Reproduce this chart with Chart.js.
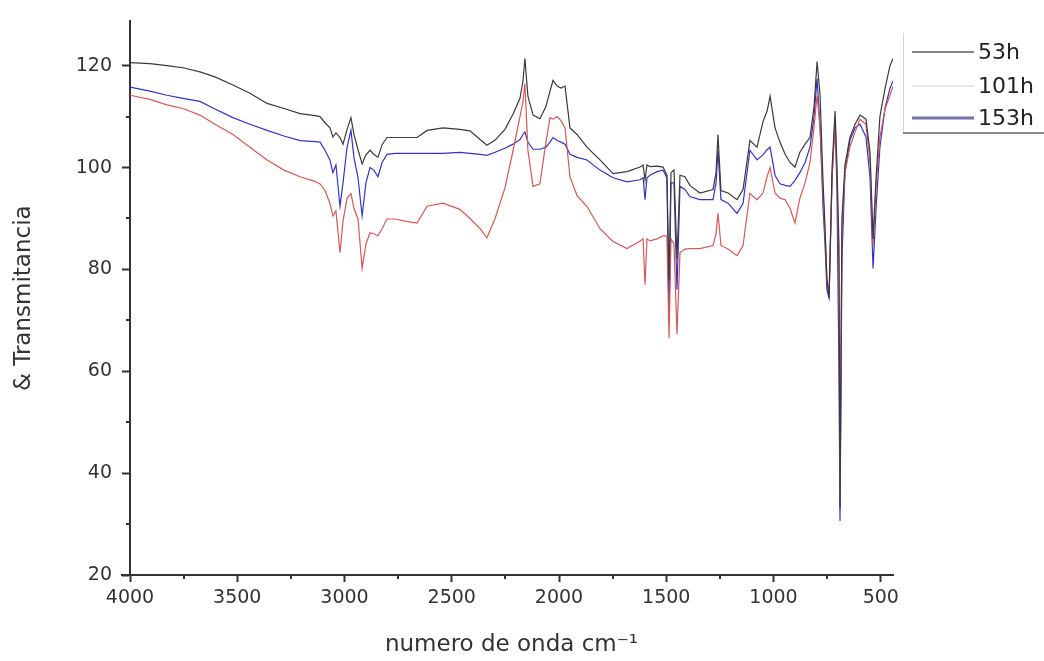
<!DOCTYPE html>
<html><head><meta charset="utf-8">
<script src="https://cdn.jsdelivr.net/npm/chart.js@4"></script>
<style>html,body{margin:0;padding:0;background:#fff}#wrap{width:1044px;height:661px}</style>
</head><body><div id="wrap"><canvas id="c" width="1044" height="661"></canvas></div>
<script>
const wavenumbers = [4000,3907,3828,3753,3674,3604,3520,3441,3361,3282,3207,3138,3114,3091,3068,3054,3040,3021,3007,2988,2970,2956,2937,2918,2900,2881,2863,2844,2825,2802,2765,2718,2662,2615,2541,2462,2415,2368,2336,2298,2252,2214,2182,2168,2159,2145,2121,2089,2061,2042,2028,2009,1991,1972,1949,1916,1870,1809,1748,1683,1622,1608,1599,1590,1576,1543,1515,1497,1487,1478,1464,1450,1436,1413,1390,1343,1282,1268,1259,1245,1212,1170,1142,1110,1077,1049,1030,1016,993,970,946,923,900,877,853,830,811,797,783,769,760,751,741,727,713,704,695,690,681,667,644,620,597,569,550,536,522,504,480,457,443];
const t53h = [120.6,120.4,120,119.6,118.8,117.8,116.2,114.6,112.6,111.6,110.6,110.2,110,108.8,107.8,106,106.8,105.9,104.6,107.5,109.8,106.5,103.5,100.7,102.5,103.4,102.6,102,104.5,105.9,105.9,105.9,105.9,107.3,107.8,107.5,107.2,105.5,104.4,105.4,107.5,110.5,113.6,117,121.4,114,110.3,109.6,112,115,117.1,116,115.6,116,107.8,106.5,104,101.5,98.8,99.2,100.1,100.5,97.5,100.5,100.2,100.3,100.1,98.5,78,99,99.5,82,98.5,98.2,96.5,95,95.7,99,106.5,95.5,95,93.7,95.7,105.3,104,109,111.1,114,107.8,105,102.6,101,100.1,103,104.6,105.9,112,120.8,114.2,97,88.5,78,74.4,100,111.1,100,85,33,90,100.5,105.9,108.5,110.3,109.5,103,86,98,110,115.6,120,121.4];
const t101h = [114.2,113.4,112.3,111.6,110.3,108.5,106.5,104,101.5,99.5,98.2,97.3,96.8,95.5,93,90.5,91.5,83.3,89.5,94,94.9,92,89.9,80.2,85,87.2,87,86.6,88,89.9,89.9,89.5,89.1,92.4,93,91.8,90,88,86.2,90,96,103.4,110,113,116.5,103.4,96.3,96.8,105,109.8,109.5,110,109.2,107.8,98.2,94.5,92.4,88,85.5,84.1,85.6,86,77,86,85.6,86,86.6,86.6,66.5,86,85,67.3,83.3,84,84.1,84.1,84.7,87,91,84.7,84,82.7,84.7,94.9,93.7,95,98.2,100,95,94,93.7,92,89.1,94,97,101,108,114.2,108,95,87,78,75,98,109,98,80,35,88,99,104,107,109.5,108.5,101,84.7,96,106,111.5,114.2,116];
const t153h = [115.8,115,114.2,113.6,113,111.5,109.8,108.5,107.3,106.2,105.3,105.1,105,103.4,101.5,99,100.5,92.4,97,104,107.3,102,98,90.5,97,100,99.5,98.2,101,102.6,102.8,102.8,102.8,102.8,102.8,103,102.8,102.6,102.4,103,103.8,104.6,105.5,106.5,107,105,103.6,103.6,104,105,105.9,105.3,105,104.6,102.6,102,101.5,99.5,98,97.2,97.6,98,93.7,98,98.5,99.2,99.5,98,70,97,97,76,96.3,95.7,94.3,93.7,93.7,97,103.4,93.7,93,91,93,103.4,101.5,102.5,103.5,104,98.5,96.8,96.5,96.3,97.5,99,101,104,110,117.5,108,92,85,76,74.4,98,109.8,95,60,30.6,82,99,105.3,107.8,108.5,106,98,80.2,92,104,111.7,115.6,117];

const seriesLabels = ['53h', '101h', '153h'];
const xTickLabels = [4000, 3500, 3000, 2500, 2000, 1500, 1000, 500];
const xMinorTicks = [3750, 3250, 2750, 2250, 1750, 1250, 750];
const yTickLabels = [20, 40, 60, 80, 100, 120];
const yMinorTicks = [30, 50, 70, 90, 110];
const xTitle = 'numero de onda cm\u207B\u00B9';
const yTitle = '& Transmitancia';

const seriesColors = ['#3a3a3a', '#d65858', '#3434c2'];
const legendColors = ['#5c5c5c', '#d9d2d2', '#7474a6'];
const legendWidths = [1.5, 1.2, 3];

function toPoints(vals) { return wavenumbers.map((w, i) => ({x: w, y: vals[i]})); }
const allSeries = [t53h, t101h, t153h];

const minorTicksPlugin = {
  id: 'minorTicks',
  afterDraw(chart) {
    const ctx = chart.ctx, xs = chart.scales.x, ys = chart.scales.y;
    ctx.save();
    ctx.strokeStyle = '#333'; ctx.lineWidth = 2;
    xMinorTicks.forEach(v => {
      const p = Math.round(xs.getPixelForValue(v));
      ctx.beginPath(); ctx.moveTo(p, xs.top); ctx.lineTo(p, xs.top + 4); ctx.stroke();
    });
    yMinorTicks.forEach(v => {
      const p = Math.round(ys.getPixelForValue(v));
      ctx.beginPath(); ctx.moveTo(ys.right, p); ctx.lineTo(ys.right - 4, p); ctx.stroke();
    });
    // small overhang of the x axis line to the left of the y axis
    ctx.beginPath(); ctx.moveTo(ys.right - 9, xs.top); ctx.lineTo(ys.right, xs.top); ctx.stroke();
    ctx.restore();
  }
};

const legendPlugin = {
  id: 'boxLegend',
  afterDraw(chart) {
    const ctx = chart.ctx;
    ctx.save();
    ctx.strokeStyle = '#d4d4d4'; ctx.lineWidth = 1;
    ctx.beginPath(); ctx.moveTo(903.5, 33); ctx.lineTo(903.5, 133); ctx.stroke();
    ctx.strokeStyle = '#8c8c8c'; ctx.lineWidth = 2;
    ctx.beginPath(); ctx.moveTo(903, 133); ctx.lineTo(1044, 133); ctx.stroke();
    const rows = [52, 86, 118];
    chart.data.datasets.forEach((ds, i) => {
      ctx.strokeStyle = legendColors[i]; ctx.lineWidth = legendWidths[i];
      ctx.beginPath(); ctx.moveTo(912, rows[i]); ctx.lineTo(974, rows[i]); ctx.stroke();
      ctx.fillStyle = '#222'; ctx.font = '22px "DejaVu Sans"'; ctx.textBaseline = 'middle'; ctx.textAlign = 'left';
      ctx.fillText(ds.label, 978, rows[i] + 1);
    });
    ctx.restore();
  }
};

new Chart(document.getElementById('c'), {
  type: 'line',
  data: {
    datasets: allSeries.map((s, i) => ({
      label: seriesLabels[i],
      data: toPoints(s),
      borderColor: seriesColors[i],
      borderWidth: 1.2,
      pointRadius: 0,
      tension: 0,
      fill: false
    }))
  },
  options: {
    responsive: false,
    devicePixelRatio: 1,
    animation: false,
    layout: {padding: {left: 0, top: 12, right: 151, bottom: 0}},
    plugins: {legend: {display: false}, tooltip: {enabled: false}},
    scales: {
      x: {
        type: 'linear', reverse: true, min: 443, max: 4000,
        afterBuildTicks: s => { s.ticks = xTickLabels.map(v => ({value: v})); },
        afterFit: s => { s.height = 86; },
        ticks: {font: {family: 'DejaVu Sans', size: 19}, color: '#333', padding: 5, maxRotation: 0, autoSkip: false,
                callback: v => String(v)},
        grid: {drawOnChartArea: false, drawTicks: true, tickLength: 7, tickColor: '#333', tickWidth: 2},
        border: {display: true, color: '#333', width: 2},
        title: {display: true, text: xTitle, font: {family: 'DejaVu Sans', size: 23}, color: '#333', padding: {top: 0, bottom: 2}}
      },
      y: {
        type: 'linear', min: 20, max: 128.7,
        afterBuildTicks: s => { s.ticks = yTickLabels.map(v => ({value: v})); },
        afterFit: s => { s.width = 130; },
        ticks: {font: {family: 'DejaVu Sans', size: 19}, color: '#333', padding: 10, callback: v => String(v)},
        grid: {drawOnChartArea: false, drawTicks: true, tickLength: 8, tickColor: '#333', tickWidth: 2},
        border: {display: true, color: '#333', width: 2},
        title: {display: true, text: yTitle, font: {family: 'DejaVu Sans', size: 23}, color: '#333', padding: {top: 10, bottom: 0}}
      }
    }
  },
  plugins: [minorTicksPlugin, legendPlugin]
});
</script></body></html>
